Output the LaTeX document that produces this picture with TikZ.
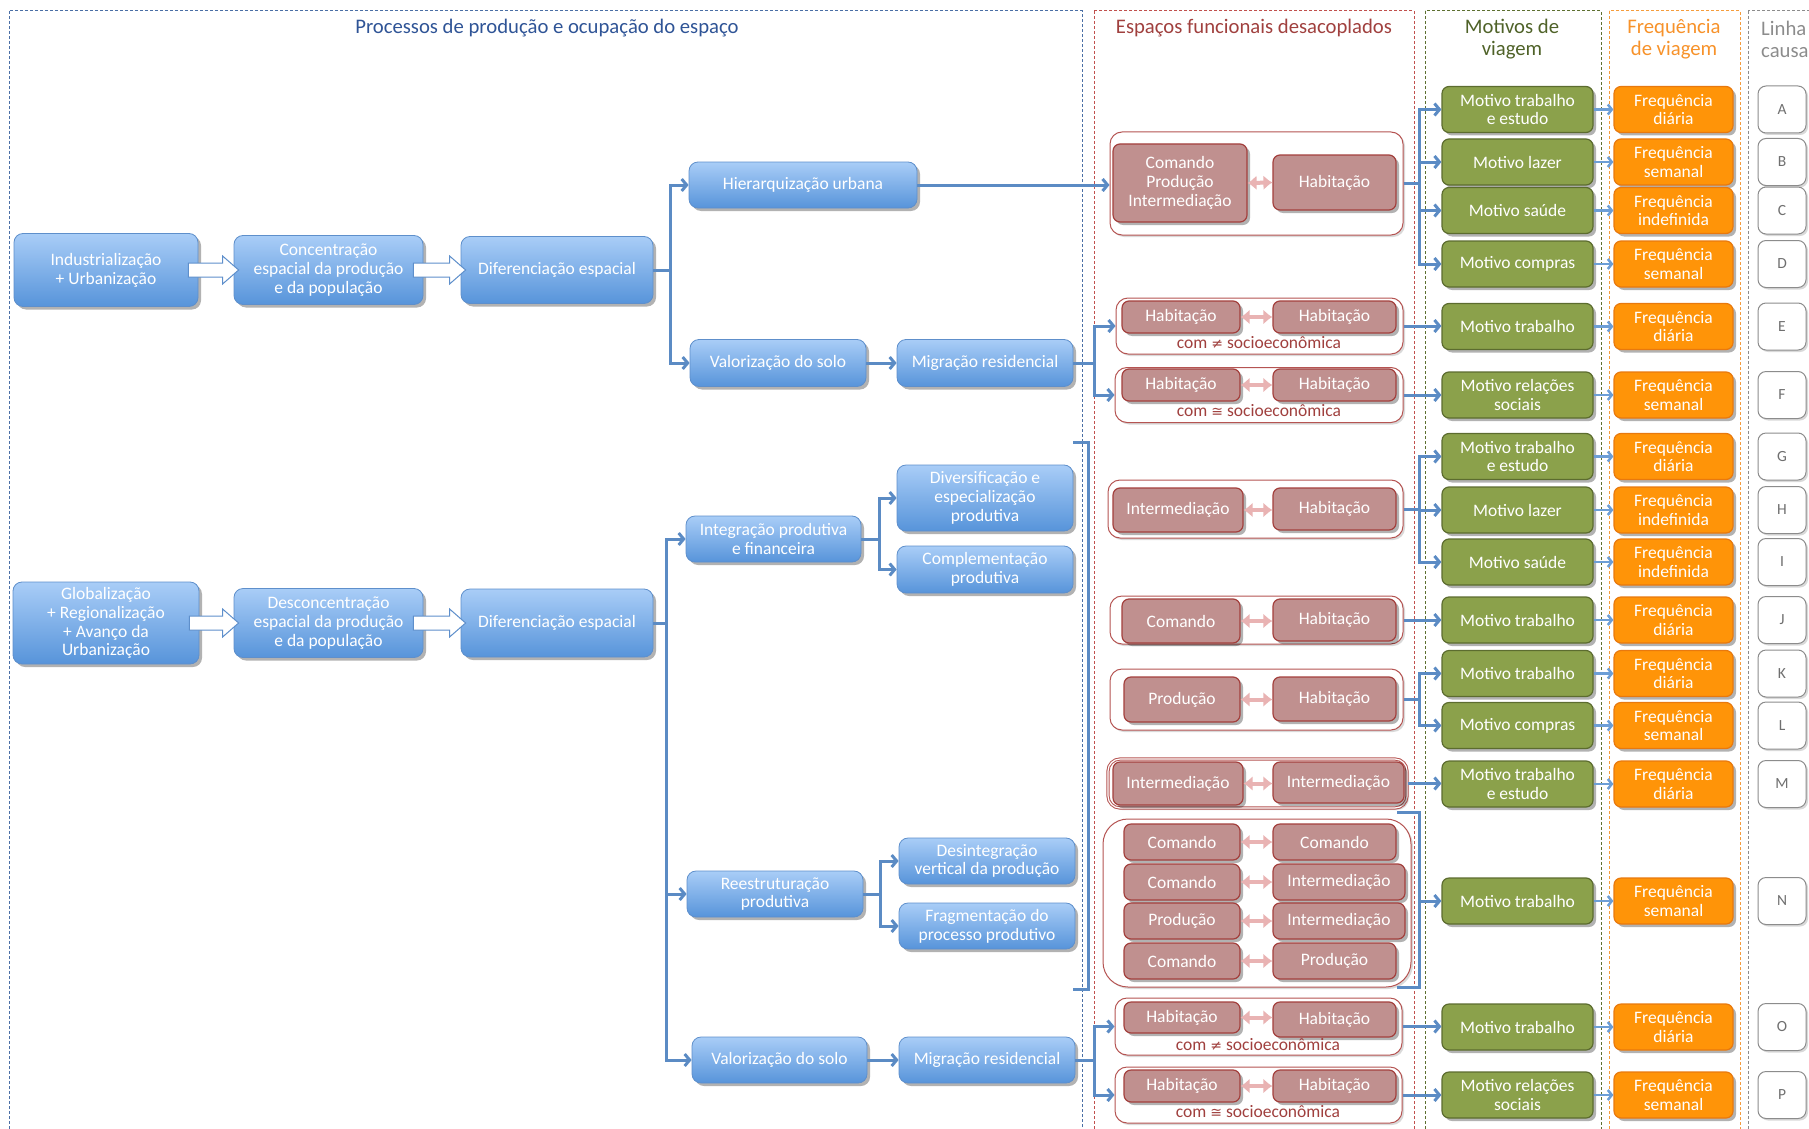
\documentclass[tikz,border=0pt]{standalone}
\usepackage{fontspec}
\setmainfont{Carlito}
\newfontfamily\symfont{DejaVu Sans}
\usetikzlibrary{arrows.meta,shadows}

\definecolor{blueTop}{HTML}{A9CDF7}
\definecolor{blueBot}{HTML}{5794DA}
\definecolor{blueEdge}{HTML}{5E8FCB}
\definecolor{connBlue}{HTML}{5B8BC4}
\definecolor{lightConn}{HTML}{6C9ED6}
\definecolor{roseFill}{HTML}{C0908F}
\definecolor{roseEdge}{HTML}{A3403D}
\definecolor{groupEdge}{HTML}{B55452}
\definecolor{pinkArr}{HTML}{E9B3B3}
\definecolor{oliveFill}{HTML}{8BA14B}
\definecolor{oliveEdge}{HTML}{5C6C2F}
\definecolor{orangeFill}{HTML}{FF9408}
\definecolor{orangeEdge}{HTML}{E8790E}
\definecolor{greyEdge}{HTML}{8C8C8C}
\definecolor{greyText}{HTML}{6F6F6F}
\definecolor{titleBlue}{HTML}{2F5496}
\definecolor{titleRed}{HTML}{A0403E}
\definecolor{titleGreen}{HTML}{4F6228}
\definecolor{titleOrange}{HTML}{F7922A}
\definecolor{panelBlue}{HTML}{4A6FA5}
\definecolor{panelRed}{HTML}{C0504D}
\definecolor{panelGreen}{HTML}{5D7030}
\definecolor{panelOrange}{HTML}{F59C3C}

\tikzset{boxfont/.style={font=\fontsize{17.5}{18.8}\selectfont}}
\tikzset{titlefont/.style={font=\fontsize{20.7}{22}\selectfont, align=center}}
\tikzset{panel/.style={draw=#1, dash pattern=on 3pt off 2pt, line width=1pt}}
\tikzset{shade/.style={drop shadow={shadow xshift=3pt, shadow yshift=-3pt, fill=black, opacity=0.3}}}
\tikzset{procbox/.style={rectangle, rounded corners=9pt, draw=blueEdge, line width=0.8pt,
    top color=blueTop, bottom color=blueBot, text=white, align=center, inner sep=1pt, boxfont, shade}}
\tikzset{groupbox/.style={rectangle, rounded corners=12pt, draw=groupEdge, line width=1pt, fill=white,
    drop shadow={shadow xshift=2pt, shadow yshift=-2pt, fill=black, opacity=0.15}}}
\tikzset{spacebox/.style={rectangle, rounded corners=7pt, draw=roseEdge, line width=1.2pt, fill=roseFill,
    text=white, align=center, inner sep=1pt, boxfont, shade}}
\tikzset{motbox/.style={rectangle, rounded corners=7pt, draw=oliveEdge, line width=1.2pt, fill=oliveFill,
    text=white, align=center, inner sep=1pt, boxfont, minimum width=151, minimum height=46, shade}}
\tikzset{freqbox/.style={rectangle, rounded corners=7pt, draw=orangeEdge, line width=1.2pt, fill=orangeFill,
    text=white, align=center, inner sep=1pt, boxfont, minimum width=119, minimum height=46, shade}}
\tikzset{letterbox/.style={rectangle, rounded corners=8pt, draw=greyEdge, line width=1pt, fill=white,
    text=greyText, font=\fontsize{15.5}{18}\selectfont, minimum width=48, minimum height=47,
    drop shadow={shadow xshift=2pt, shadow yshift=-2pt, fill=black, opacity=0.15}}}
\tikzset{sociotext/.style={text=titleRed, boxfont, inner sep=0pt}}
\tikzset{conn/.style={draw=connBlue, line width=3pt, -{Straight Barb[length=5pt,width=12pt]}}}
\tikzset{smallarr/.style={draw=lightConn, line width=2.5pt, -{Straight Barb[length=4pt,width=10pt]}}}
\tikzset{bothway/.style={draw=pinkArr, line width=4pt, {Latex[length=9pt,width=15pt]}-{Latex[length=9pt,width=15pt]}}}
\tikzset{hollow/.style={draw=blueEdge, fill=white, line width=1pt}}

% wide white arrow between two boxes on one row
\newcommand\hollowarrow[2]{%
  \draw[hollow] ([xshift=-10pt,yshift=7pt]#1.east) -- ([xshift=-11pt,yshift=7pt]#2.west)
    -- ([xshift=-11pt,yshift=14pt]#2.west) -- ([xshift=5pt]#2.west)
    -- ([xshift=-11pt,yshift=-14pt]#2.west) -- ([xshift=-11pt,yshift=-7pt]#2.west)
    -- ([xshift=-10pt,yshift=-7pt]#1.east) -- cycle;}
\newcommand\socioneq{com {\symfont\fontsize{14}{14}\selectfont ≠} socioeconômica}
\newcommand\sociocong{com {\symfont\fontsize{14}{14}\selectfont ≅} socioeconômica}

\begin{document}
\begin{tikzpicture}[x=1pt,y=-1pt]
  \useasboundingbox (0,0) rectangle (1809,1129);
  \clip (0,0) rectangle (1809,1129);

  % columns
  \draw[panel=panelBlue] (9,11) rectangle (1082,1140);
  \draw[panel=panelRed] (1094,11) rectangle (1414,1140);
  \draw[panel=panelGreen] (1425,11) rectangle (1601,1140);
  \draw[panel=panelOrange] (1609,11) rectangle (1740,1140);
  \draw[panel=greyEdge] (1748,11) rectangle (1840,1140);

  \node[titlefont, text=titleBlue] (tproc) at (547,28) {Processos de produção e ocupação do espaço};
  \node[titlefont, text=titleRed] (tesp) at (1254,28) {Espaços funcionais desacoplados};
  \node[titlefont, text=titleGreen] (tmot) at (1512,39) {Motivos de\\viagem};
  \node[titlefont, text=titleOrange] (tfreq) at (1674,39) {Frequência\\de viagem};
  \node[titlefont, text=greyEdge, align=left, anchor=west, inner sep=0pt] (tlin) at (1761,39) {Linha\\causa};

  % processes
  \node[procbox, minimum width=184, minimum height=73] (ind) at (106,270) {Industrialização\\+ Urbanização};
  \node[procbox, minimum width=189, minimum height=69] (conc) at (328.5,270) {Concentração\\espacial da produção\\e da população};
  \node[procbox, minimum width=192, minimum height=67] (dif1) at (557,270) {Diferenciação espacial};
  \node[procbox, minimum width=228, minimum height=46] (hier) at (803,185) {Hierarquização urbana};
  \node[procbox, minimum width=176, minimum height=47] (val1) at (778,363) {Valorização do solo};
  \node[procbox, minimum width=176, minimum height=47] (mig1) at (985,363) {Migração residencial};

  \node[procbox, minimum width=186, minimum height=82] (glob) at (106,623) {Globalização\\+ Regionalização\\+ Avanço da\\Urbanização};
  \node[procbox, minimum width=189, minimum height=69] (desc) at (328.5,623) {Desconcentração\\espacial da produção\\e da população};
  \node[procbox, minimum width=192, minimum height=68] (dif2) at (557,623) {Diferenciação espacial};
  \node[procbox, minimum width=175, minimum height=46] (integ) at (773.5,539) {Integração produtiva\\e financeira};
  \node[procbox, minimum width=176, minimum height=66] (divers) at (985,498) {Diversificação e\\especialização\\produtiva};
  \node[procbox, minimum width=176, minimum height=47] (compl) at (985,569.5) {Complementação\\produtiva};
  \node[procbox, minimum width=176, minimum height=46] (reest) at (775,894) {Reestruturação\\produtiva};
  \node[procbox, minimum width=176, minimum height=46] (desint) at (987,861) {Desintegração\\vertical da produção};
  \node[procbox, minimum width=176, minimum height=46] (frag) at (987,926) {Fragmentação do\\processo produtivo};
  \node[procbox, minimum width=175, minimum height=46] (val2) at (779.5,1060) {Valorização do solo};
  \node[procbox, minimum width=176, minimum height=46] (mig2) at (987,1060) {Migração residencial};

  \hollowarrow{ind}{conc}
  \hollowarrow{conc}{dif1}
  \hollowarrow{glob}{desc}
  \hollowarrow{desc}{dif2}

  % decoupled spaces
  \node[groupbox, minimum width=293, minimum height=103] (g1) at (1256.5,183.5) {};
  \node[groupbox, minimum width=287, minimum height=56] (gE) at (1259.5,326) {};
  \node[groupbox, minimum width=288, minimum height=55] (gF) at (1259,395) {};
  \node[groupbox, minimum width=295, minimum height=58] (gG) at (1255.5,509) {};
  \node[groupbox, minimum width=293, minimum height=48] (gJ) at (1256.5,620) {};
  \node[groupbox, minimum width=293, minimum height=61] (gK) at (1256.5,699.5) {};
  \node[groupbox, double, double distance=1.2pt, minimum width=299, minimum height=49] (gM) at (1257.5,783.5) {};
  \node[groupbox, rounded corners=25pt, minimum width=308, minimum height=168] (gN) at (1257,903) {};
  \node[groupbox, minimum width=287, minimum height=57] (gO) at (1258.5,1026.5) {};
  \node[groupbox, minimum width=287, minimum height=56] (gP) at (1258.5,1095) {};

  \node[spacebox, minimum width=134, minimum height=78] (cpi) at (1180,183) {Comando\\Produção\\Intermediação};
  \node[spacebox, minimum width=123, minimum height=55] (hab1) at (1334.5,182.5) {Habitação};

  \node[spacebox, minimum width=118, minimum height=32] (habE1) at (1181,317) {Habitação};
  \node[spacebox, minimum width=123, minimum height=32] (habE2) at (1334.5,317) {Habitação};
  \node[sociotext] (txtE) at (1259,343) {\socioneq};

  \node[spacebox, minimum width=118, minimum height=32] (habF1) at (1181,385) {Habitação};
  \node[spacebox, minimum width=123, minimum height=32] (habF2) at (1334.5,385) {Habitação};
  \node[sociotext] (txtF) at (1259,411) {\sociocong};

  \node[spacebox, minimum width=130, minimum height=44] (intG) at (1178,510) {Intermediação};
  \node[spacebox, minimum width=123, minimum height=42] (habG) at (1334.5,509) {Habitação};

  \node[spacebox, minimum width=118, minimum height=44] (comJ) at (1181,621) {Comando};
  \node[spacebox, minimum width=123, minimum height=42] (habJ) at (1334.5,620) {Habitação};

  \node[spacebox, minimum width=116, minimum height=45] (prodK) at (1182,699.5) {Produção};
  \node[spacebox, minimum width=123, minimum height=44] (habK) at (1334.5,699) {Habitação};

  \node[spacebox, minimum width=130, minimum height=43] (intM1) at (1178,783.5) {Intermediação};
  \node[spacebox, minimum width=131, minimum height=41] (intM2) at (1338.5,782.5) {Intermediação};

  \node[spacebox, minimum width=116, minimum height=36] (n1l) at (1182,842) {Comando};
  \node[spacebox, minimum width=123, minimum height=36] (n1r) at (1334.5,842) {Comando};
  \node[spacebox, minimum width=116, minimum height=36] (n2l) at (1182,882) {Comando};
  \node[spacebox, minimum width=132, minimum height=36] (n2r) at (1339,882) {Intermediação};
  \node[spacebox, minimum width=116, minimum height=36] (n3l) at (1182,921) {Produção};
  \node[spacebox, minimum width=132, minimum height=36] (n3r) at (1339,921) {Intermediação};
  \node[spacebox, minimum width=116, minimum height=36] (n4l) at (1182,961) {Comando};
  \node[spacebox, minimum width=123, minimum height=36] (n4r) at (1334.5,961) {Produção};

  \node[spacebox, minimum width=116, minimum height=31] (habO1) at (1182,1017.5) {Habitação};
  \node[spacebox, minimum width=123, minimum height=35] (habO2) at (1334.5,1019.5) {Habitação};
  \node[sociotext] (txtO) at (1258,1045) {\socioneq};

  \node[spacebox, minimum width=116, minimum height=32] (habP1) at (1182,1086) {Habitação};
  \node[spacebox, minimum width=123, minimum height=32] (habP2) at (1334.5,1086) {Habitação};
  \node[sociotext] (txtP) at (1258,1112) {\sociocong};

  \draw[bothway] (cpi.east) -- (hab1.west);
  \draw[bothway] (habE1) -- (habE2);
  \draw[bothway] (habF1) -- (habF2);
  \draw[bothway] (intG.east) -- (intG.east -| habG.west);
  \draw[bothway] (comJ.east) -- (comJ.east -| habJ.west);
  \draw[bothway] (prodK.east) -- (prodK.east -| habK.west);
  \draw[bothway] (intM1.east) -- (intM1.east -| intM2.west);
  \draw[bothway] (n1l) -- (n1r);
  \draw[bothway] (n2l) -- (n2r);
  \draw[bothway] (n3l) -- (n3r);
  \draw[bothway] (n4l) -- (n4r);
  \draw[bothway] (habO1.east) -- (habO1.east -| habO2.west);
  \draw[bothway] (habP1) -- (habP2);

  % motives, frequencies and causal lines
  \foreach \n/\y/\mot/\frq in {
      A/109.5/{Motivo trabalho\\e estudo}/{Frequência\\diária},
      B/162/{Motivo lazer}/{Frequência\\semanal},
      C/210.5/{Motivo saúde}/{Frequência\\indefinida},
      D/264/{Motivo compras}/{Frequência\\semanal},
      E/326.5/{Motivo trabalho}/{Frequência\\diária},
      F/395/{Motivo relações\\sociais}/{Frequência\\semanal},
      G/456.5/{Motivo trabalho\\e estudo}/{Frequência\\diária},
      H/510/{Motivo lazer}/{Frequência\\indefinida},
      I/562/{Motivo saúde}/{Frequência\\indefinida},
      J/620/{Motivo trabalho}/{Frequência\\diária},
      K/673.5/{Motivo trabalho}/{Frequência\\diária},
      L/725.5/{Motivo compras}/{Frequência\\semanal},
      M/784/{Motivo trabalho\\e estudo}/{Frequência\\diária},
      N/901/{Motivo trabalho}/{Frequência\\semanal},
      O/1027/{Motivo trabalho}/{Frequência\\diária},
      P/1095/{Motivo relações\\sociais}/{Frequência\\semanal}}{
    \node[motbox] (mot\n) at (1517.5,\y) {\mot};
    \node[freqbox] (frq\n) at (1673.5,\y) {\frq};
    \node[letterbox] (let\n) at (1782,\y) {\n};
    \draw[smallarr] (mot\n.east) -- (frq\n.west);
  }

  % connectors
  \draw[conn] (dif1.east) -- ++(17,0) |- (hier.west);
  \draw[conn] (dif1.east) -- ++(17,0) |- (val1.west);
  \draw[conn] (val1) -- (mig1);
  \draw[conn] (hier.east) -- (hier.east -| g1.west);
  \draw[conn] (mig1.east) -- ++(21,0) |- (gE.west);
  \draw[conn] (mig1.east) -- ++(21,0) |- (gF.west);

  \draw[conn] (dif2.east) -- ++(13,0) |- (integ.west);
  \draw[conn] (dif2.east) -- ++(13,0) |- (reest.west);
  \draw[conn] (dif2.east) -- ++(13,0) |- (val2.west);
  \draw[conn] (integ.east) -- ++(18,0) |- (divers.west);
  \draw[conn] (integ.east) -- ++(18,0) |- (compl.west);
  \draw[conn] (reest.east) -- ++(17,0) |- (desint.west);
  \draw[conn] (reest.east) -- ++(17,0) |- (frag.west);
  \draw[conn] (val2) -- (mig2);
  \draw[conn] (mig2.east) -- ++(19,0) |- (gO.west);
  \draw[conn] (mig2.east) -- ++(19,0) |- (gP.west);
  \draw[conn, -] (1073,442) -- (1088,442) -- (1088,989) -- (1073,989);

  \foreach \m in {A,B,C,D}
    \draw[conn] (g1.east) -- ++(16,0) |- (mot\m.west);
  \foreach \m in {G,H,I}
    \draw[conn] (gG.east) -- ++(16,0) |- (mot\m.west);
  \foreach \m in {K,L}
    \draw[conn] (gK.east) -- ++(16,0) |- (mot\m.west);
  \draw[conn] (gE.east) -- (gE.east -| motE.west);
  \draw[conn] (gF.east) -- (gF.east -| motF.west);
  \draw[conn] (gJ.east) -- (gJ.east -| motJ.west);
  \draw[conn] (gM.east) -- (gM.east -| motM.west);
  \draw[conn] (gO.east) -- (gO.east -| motO.west);
  \draw[conn] (gP.east) -- (gP.east -| motP.west);
  \draw[conn, -] (1397,812) -- (1419,812) -- (1419,987) -- (1397,987);
  \coordinate (brN) at (1419,901);
  \draw[conn] (brN) -- (motN.west);
\end{tikzpicture}
\end{document}
